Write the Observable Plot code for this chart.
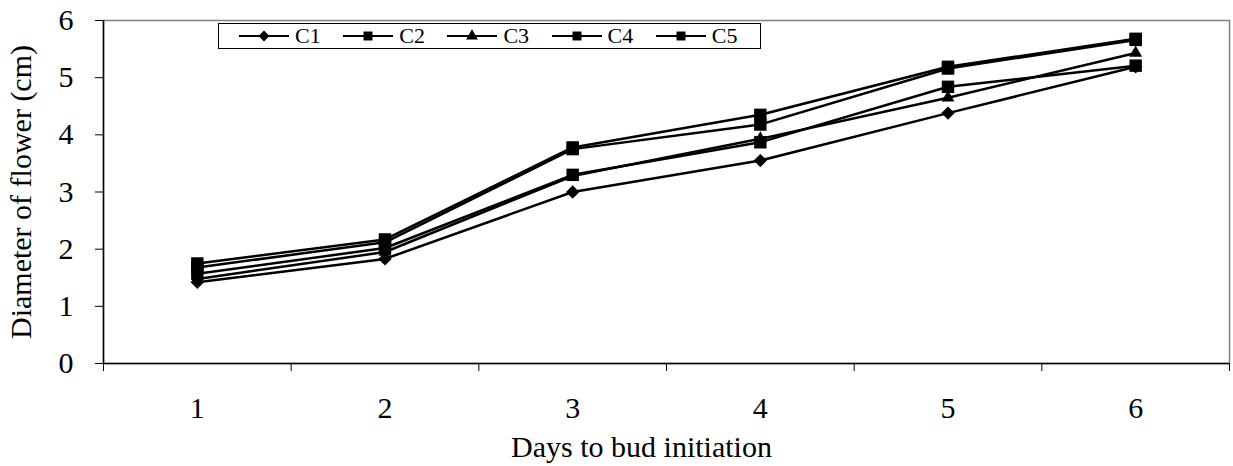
<!DOCTYPE html>
<html>
<head>
<meta charset="utf-8">
<script src="https://cdn.jsdelivr.net/npm/d3@7"></script>
<script src="https://cdn.jsdelivr.net/npm/@observablehq/plot@0.6"></script>
<style>
  html, body { margin: 0; padding: 0; background: #fff; }
  #wrap { position: relative; width: 1233px; height: 466px; font-family: "Liberation Serif", "Times New Roman", serif; }
  #legend { position: absolute; left: 218px; top: 23px; width: 543px; height: 26px; border: 1px solid #000; background: #fff;
            display: flex; align-items: center; padding-left: 20px; box-sizing: border-box; }
  .item { display: flex; align-items: center; width: 106px; }
  .item span { font-size: 22px; margin-left: 6px; line-height: 1; }
</style>
</head>
<body>
<div id="wrap"></div>
<script>
const days = [1, 2, 3, 4, 5, 6];
const seriesNames = ["C1", "C2", "C3", "C4", "C5"];
const C1 = [1.42, 1.83, 3.00, 3.55, 4.38, 5.19];
const C2 = [1.57, 2.02, 3.30, 3.87, 4.84, 5.21];
const C3 = [1.48, 1.95, 3.28, 3.93, 4.65, 5.43];
const C4 = [1.68, 2.12, 3.75, 4.18, 5.16, 5.66];
const C5 = [1.75, 2.17, 3.78, 4.35, 5.19, 5.68];
const yTicks = [0, 1, 2, 3, 4, 5, 6];
const xTitle = "Days to bud initiation";
const yTitle = "Diameter of flower (cm)";
const symbolNames = ["diamond2", "square", "triangle", "square", "square"];

const seriesValues = [C1, C2, C3, C4, C5];
const data = [];
seriesNames.forEach((s, i) => days.forEach((d, j) => data.push({series: s, day: d, value: seriesValues[i][j]})));
const boundaries = days.map(d => d - 0.5).concat([days[days.length - 1] + 0.5]);
const markerR = s => s === "C1" ? 6.0 : s === "C3" ? 4.8 : 7.0;

const chart = Plot.plot({
  width: 1233,
  height: 466,
  marginLeft: 103,
  marginRight: 4,
  marginTop: 20,
  marginBottom: 103,
  style: {fontFamily: "'Liberation Serif', 'Times New Roman', serif", fontSize: "30px", color: "#000", background: "#fff"},
  x: {domain: [boundaries[0], boundaries[boundaries.length - 1]]},
  y: {domain: [0, 6]},
  r: {type: "identity"},
  symbol: {domain: seriesNames, range: symbolNames},
  marks: [
    Plot.frame({stroke: "#808080", strokeWidth: 1.5}),
    Plot.axisY({ticks: yTicks, tickSize: 8, tickPadding: 22, fontSize: 30, tickFormat: d => String(d), label: yTitle, labelAnchor: "center", labelArrow: false, labelOffset: 94}),
    Plot.axisX({ticks: boundaries, tickSize: 8, tickFormat: () => "", label: null}),
    Plot.axisX({ticks: days, tickSize: 0, tickPadding: 33, fontSize: 30, tickFormat: d => String(d), label: null}),
    Plot.text([xTitle], {frameAnchor: "bottom", lineAnchor: "bottom", dy: 93, dx: -25, fontSize: 30, fill: "#000"}),
    Plot.ruleY([0], {stroke: "#000", strokeWidth: 1.5}),
    Plot.ruleX([boundaries[0]], {stroke: "#000", strokeWidth: 1.5}),
    Plot.line(data, {x: "day", y: "value", z: "series", stroke: "#000", strokeWidth: 2.5}),
    Plot.dot(data, {x: "day", y: "value", symbol: "series", r: d => markerR(d.series), fill: "#000", stroke: "none"})
  ]
});

const wrap = document.getElementById("wrap");
wrap.appendChild(chart);

// Legend (inside plot area, as in the reference)
const legend = document.createElement("div");
legend.id = "legend";
const symMap = {diamond2: d3.symbolDiamond2, square: d3.symbolSquare, triangle: d3.symbolTriangle};
const legendSize = {diamond2: 75, square: 80, triangle: 60};
seriesNames.forEach((s, i) => {
  const item = document.createElement("div");
  item.className = "item";
  const svg = d3.create("svg").attr("width", 50).attr("height", 24);
  svg.append("line").attr("x1", 0).attr("x2", 50).attr("y1", 12).attr("y2", 12).attr("stroke", "#000").attr("stroke-width", 2);
  svg.append("path").attr("transform", "translate(25,12)")
    .attr("d", d3.symbol(symMap[symbolNames[i]], legendSize[symbolNames[i]])()).attr("fill", "#000");
  item.appendChild(svg.node());
  const t = document.createElement("span");
  t.textContent = s;
  item.appendChild(t);
  legend.appendChild(item);
});
wrap.appendChild(legend);
</script>
</body>
</html>
